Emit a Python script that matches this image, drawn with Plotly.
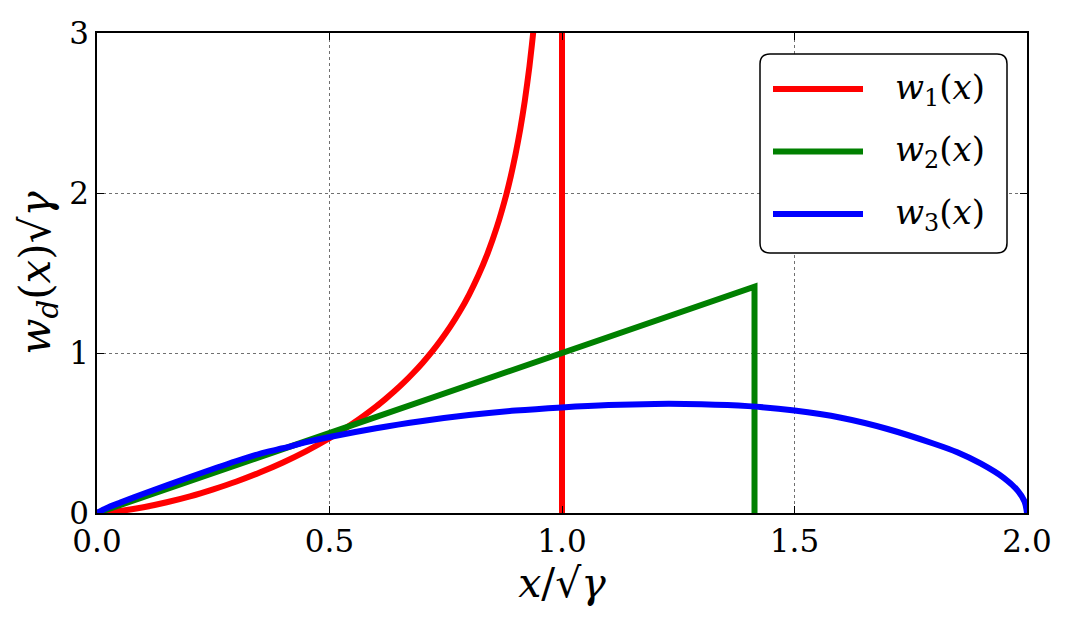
import plotly.graph_objects as go

# ---- data ----
red_x = [0.0, 0.05, 0.1, 0.15, 0.2, 0.25, 0.3, 0.35, 0.4, 0.45, 0.5, 0.55, 0.6, 0.62, 0.64,
         0.66, 0.68, 0.7, 0.72, 0.74, 0.76, 0.78, 0.8, 0.82, 0.84, 0.86, 0.88, 0.89, 0.9,
         0.91, 0.92, 0.93, 0.94, 0.95, 0.97, 0.99, 1.0, 1.0]
red_y = [0.0, 0.013, 0.036, 0.067, 0.104, 0.148, 0.197, 0.253, 0.316, 0.387, 0.467, 0.559,
         0.665, 0.712, 0.762, 0.816, 0.875, 0.938, 1.007, 1.083, 1.166, 1.259, 1.364, 1.484,
         1.623, 1.788, 1.988, 2.106, 2.241, 2.395, 2.576, 2.791, 3.056, 3.39, 4.49, 7.99,
         12.0, 0.0]

green_x = [0.0, 1.414, 1.414]
green_y = [0.0, 1.414, 0.0]

blue_x = [0.0, 0.02, 0.05, 0.1, 0.2, 0.3, 0.35, 0.4, 0.45, 0.5, 0.6, 0.7, 0.8, 0.9, 1.0,
          1.1, 1.2, 1.3, 1.4, 1.5, 1.6, 1.7, 1.8, 1.85, 1.9, 1.95, 1.98, 1.995, 2.0]
blue_y = [0.0, 0.03, 0.065, 0.12, 0.225, 0.325, 0.37, 0.405, 0.443, 0.475, 0.53, 0.575,
          0.612, 0.64, 0.66, 0.675, 0.682, 0.68, 0.668, 0.64, 0.595, 0.525, 0.433, 0.38,
          0.31, 0.22, 0.14, 0.07, 0.0]

x_ticks = [0.0, 0.5, 1.0, 1.5, 2.0]
x_tick_labels = ["0.0", "0.5", "1.0", "1.5", "2.0"]
y_ticks = [0, 1, 2, 3]
y_tick_labels = ["0", "1", "2", "3"]

labels = ["<i>w</i><sub>1</sub>(<i>x</i>)", "<i>w</i><sub>2</sub>(<i>x</i>)",
          "<i>w</i><sub>3</sub>(<i>x</i>)"]
colors = ["#ff0000", "#008000", "#0000ff"]

FONT = "DejaVu Serif"
LW = 6

fig = go.Figure()
fig.add_trace(go.Scatter(x=red_x, y=red_y, mode="lines", name=labels[0],
                         line=dict(color=colors[0], width=LW, shape="spline", smoothing=0.6),
                         showlegend=False))
fig.add_trace(go.Scatter(x=green_x, y=green_y, mode="lines", name=labels[1],
                         line=dict(color=colors[1], width=LW), showlegend=False))
fig.add_trace(go.Scatter(x=blue_x, y=blue_y, mode="lines", name=labels[2],
                         line=dict(color=colors[2], width=LW, shape="spline", smoothing=0.8),
                         showlegend=False))

axis_common = dict(
    showgrid=True, gridcolor="#707070", griddash="dot", gridwidth=1,
    showline=True, linecolor="black", linewidth=1.5, mirror="ticks",
    ticks="inside", ticklen=7, tickcolor="black", tickwidth=1,
    zeroline=False, tickfont=dict(family=FONT, size=31, color="black"),
)

fig.update_xaxes(range=[0, 2], tickvals=x_ticks, ticktext=x_tick_labels,
                 title=dict(text="<i>x</i>/√<i>γ</i>", font=dict(family=FONT, size=41, color="black"),
                            standoff=2),
                 **axis_common)
fig.update_yaxes(range=[0, 3], tickvals=y_ticks, ticktext=y_tick_labels,
                 title=dict(text="<i>w</i><sub><i>d</i></sub>(<i>x</i>)√<i>γ</i>",
                            font=dict(family=FONT, size=42, color="black"), standoff=6),
                 **axis_common)

# ---- manual legend (rounded box, line samples, labels) ----
lx0, lx1, ly0, ly1 = 760, 1007, 54, 253
W, H = 1068, 630
L, R, T, B = 97, 41, 33, 117
pw, ph = W - L - R, H - T - B

def px2paper(px, py):
    return (px - L) / pw, (H - B - py) / ph

r = 10
x0, y1 = px2paper(lx0, ly0)
x1, y0 = px2paper(lx1, ly1)
rx, ry = r / pw, r / ph
path = (f"M {x0+rx},{y1} L {x1-rx},{y1} Q {x1},{y1} {x1},{y1-ry} "
        f"L {x1},{y0+ry} Q {x1},{y0} {x1-rx},{y0} L {x0+rx},{y0} "
        f"Q {x0},{y0} {x0},{y0+ry} L {x0},{y1-ry} Q {x0},{y1} {x0+rx},{y1} Z")
fig.add_shape(type="path", path=path, xref="paper", yref="paper",
              line=dict(color="black", width=1.5), fillcolor="white", layer="above")

for i, (c, name) in enumerate(zip(colors, labels)):
    py = 89 + i * 62.5
    ax0, ay = px2paper(773, py)
    ax1, _ = px2paper(863, py)
    fig.add_shape(type="line", x0=ax0, x1=ax1, y0=ay, y1=ay, xref="paper", yref="paper",
                  line=dict(color=c, width=LW), layer="above")
    tx, _ = px2paper(893, py)
    fig.add_annotation(x=tx, y=ay, xref="paper", yref="paper", text=name, showarrow=False,
                       xanchor="left", yanchor="middle",
                       font=dict(family=FONT, size=34, color="black"))

fig.update_layout(
    width=W, height=H,
    margin=dict(l=L, r=R, t=T, b=B),
    paper_bgcolor="white", plot_bgcolor="white",
)

fig.write_html("out.html")
